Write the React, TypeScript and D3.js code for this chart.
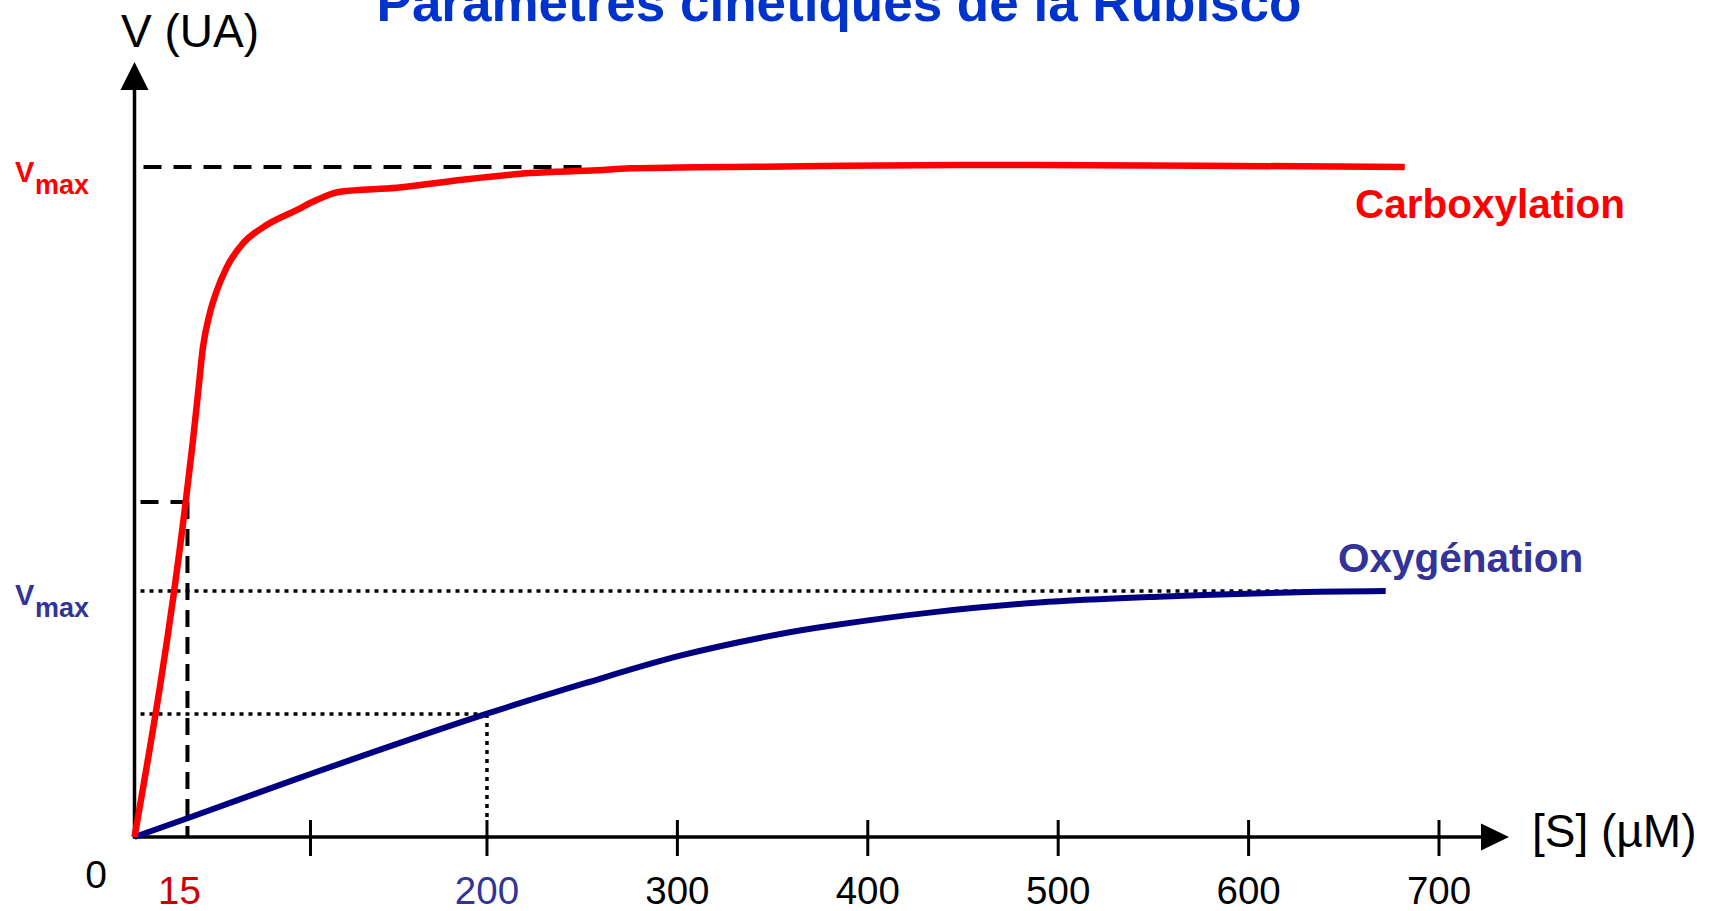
import { useMemo } from "react";
import * as d3 from "d3";

const WIDTH = 1723;
const HEIGHT = 911;
const FONT = "'Liberation Sans', Arial, sans-serif";

// origin of the axes and the pixel spots of S = 700 and V = Vmax(carboxylation)
const ORIGIN = { x: 134.5, y: 837 };
const X_END = 1439;
const Y_VMAX = 167;

// the drawing is schematic: the S axis is stretched near the origin
const X_BREAKS = [0, 15, 100, 200, 700];
const X_STRETCH = [0, 0.0406, 0.1349, 0.2702, 1];

// kinetic constants (µM, UA)
const KM_CARBOX = 15;
const KM_OXY = 200;
const VMAX_CARBOX = 100;
const VMAX_OXY = 36.7;

// curves
const carboxS = [0, 14.5, 18.8, 22.3, 25.7, 30.5, 35.4, 42.3, 53.4, 67.2, 90.7, 103.7, 116.7, 149, 186, 223, 258, 275, 364, 448, 575, 682];
const carboxV = [0, 50, 59.2, 66.2, 73.1, 78.2, 81.6, 85.1, 88.6, 91.0, 93.6, 95.1, 96.3, 96.9, 98.1, 99.1, 99.5, 99.8, 100.1, 100.3, 100.2, 100];
const oxyS = [0, 15, 100, 200, 252, 302, 354, 382, 436, 490, 556, 621, 672];
const oxyV = [0, 2.8, 9.4, 18.4, 23.0, 27.1, 30.3, 31.6, 33.6, 35.0, 35.9, 36.5, 36.7];

// axis ticks and labels
const tickValues = [100, 200, 300, 400, 500, 600, 700];
const labelValues = [15, 200, 300, 400, 500, 600, 700];

// how far the guide lines run along S
const GUIDE_VMAX_CARBOX_END = 256;
const GUIDE_VMAX_OXY_END = 634;
const GUIDE_HALF_OXY_END = 197;

const RED = "#ff0000";
const DARK_RED = "#cc0000";
const NAVY = "#000080";
const BLUE_TEXT = "#333399";

const VmaxLabel = ({ y, color }: { y: number; color: string }) => (
    <text x={15} y={y} fill={color} fontFamily={FONT} fontWeight="bold">
        <tspan fontSize={29}>V</tspan>
        <tspan x={35} dy={11.5} fontSize={27}>max</tspan>
    </text>
);

export default function App() {
    const xScale = useMemo(
        () =>
            d3
                .scaleLinear()
                .domain(X_BREAKS)
                .range(X_STRETCH.map((f) => ORIGIN.x + f * (X_END - ORIGIN.x))),
        []
    );
    const yScale = useMemo(
        () => d3.scaleLinear().domain([0, VMAX_CARBOX]).range([ORIGIN.y, Y_VMAX]),
        []
    );

    const lineOf = (curve: d3.CurveFactory) =>
        d3
            .line<[number, number]>()
            .x((d) => xScale(d[0]))
            .y((d) => yScale(d[1]))
            .curve(curve);

    const carboxPath = lineOf(d3.curveMonotoneX)(carboxS.map((s, i) => [s, carboxV[i]])) || "";
    // smoother spline for the slow oxygenation curve
    const oxyPath = lineOf(d3.curveCatmullRom.alpha(0.5))(oxyS.map((s, i) => [s, oxyV[i]])) || "";

    const guideStart = ORIGIN.x + 6;
    const yArrowTip = 62;
    const xArrowTip = 1509;

    const dashed = { stroke: "#000", strokeWidth: 4, strokeDasharray: "18 12", fill: "none" };
    const dotted = { stroke: "#000", strokeWidth: 3.5, strokeDasharray: "4 5", fill: "none" };

    const labelColor = (v: number) =>
        v === KM_CARBOX ? DARK_RED : v === KM_OXY ? BLUE_TEXT : "#000";

    return (
        <svg
            width={WIDTH}
            height={HEIGHT}
            style={{ position: "absolute", left: 0, top: 0, background: "#fff" }}
        >
            {/* title, cut by the top edge as in the slide */}
            <text
                x={839}
                y={21}
                textAnchor="middle"
                fontFamily={FONT}
                fontWeight="bold"
                fontSize={53}
                fill="#0033cc"
            >
                Paramètres cinétiques de la Rubisco
            </text>

            {/* guide lines */}
            <line x1={guideStart + 3} x2={xScale(GUIDE_VMAX_CARBOX_END)} y1={yScale(VMAX_CARBOX)} y2={yScale(VMAX_CARBOX)} {...dashed} />
            <line x1={guideStart} x2={xScale(KM_CARBOX)} y1={yScale(VMAX_CARBOX / 2)} y2={yScale(VMAX_CARBOX / 2)} {...dashed} />
            <line x1={xScale(KM_CARBOX)} x2={xScale(KM_CARBOX)} y1={yScale(VMAX_CARBOX / 2)} y2={ORIGIN.y} {...dashed} strokeDasharray="17 10" />
            <line x1={guideStart} x2={xScale(GUIDE_VMAX_OXY_END)} y1={yScale(VMAX_OXY)} y2={yScale(VMAX_OXY)} {...dotted} />
            <line x1={guideStart} x2={xScale(GUIDE_HALF_OXY_END)} y1={yScale(VMAX_OXY / 2)} y2={yScale(VMAX_OXY / 2)} {...dotted} />
            <line x1={xScale(KM_OXY)} x2={xScale(KM_OXY)} y1={yScale(VMAX_OXY / 2)} y2={ORIGIN.y - 18} {...dotted} />

            {/* axes */}
            <line x1={ORIGIN.x} x2={ORIGIN.x} y1={ORIGIN.y + 1.5} y2={yArrowTip + 20} stroke="#000" strokeWidth={3.5} />
            <path d={`M${ORIGIN.x},${yArrowTip} L${ORIGIN.x + 14},${yArrowTip + 28} L${ORIGIN.x - 14},${yArrowTip + 28} Z`} fill="#000" />
            <line x1={ORIGIN.x - 1.5} x2={xArrowTip - 20} y1={ORIGIN.y} y2={ORIGIN.y} stroke="#000" strokeWidth={3.5} />
            <path d={`M${xArrowTip},${ORIGIN.y} L${xArrowTip - 28},${ORIGIN.y - 13.5} L${xArrowTip - 28},${ORIGIN.y + 13.5} Z`} fill="#000" />
            {tickValues.map((v) => (
                <line key={v} x1={xScale(v)} x2={xScale(v)} y1={ORIGIN.y - 17} y2={ORIGIN.y + 19} stroke="#000" strokeWidth={3} />
            ))}

            {/* curves */}
            <path d={oxyPath} fill="none" stroke={NAVY} strokeWidth={6} />
            <path d={carboxPath} fill="none" stroke={RED} strokeWidth={6.5} />

            {/* axis texts */}
            <text x={121} y={47} fontFamily={FONT} fontSize={46} fill="#000">V (UA)</text>
            <text x={1532} y={847} fontFamily={FONT} fontSize={46} fill="#000">[S] (µM)</text>
            <text x={96} y={888} textAnchor="middle" fontFamily={FONT} fontSize={39} fill="#000">0</text>
            {labelValues.map((v) => (
                <text
                    key={v}
                    x={v === KM_CARBOX ? xScale(v) - 8 : xScale(v)}
                    y={904}
                    textAnchor="middle"
                    fontFamily={FONT}
                    fontSize={38.5}
                    fill={labelColor(v)}
                >
                    {v}
                </text>
            ))}

            <VmaxLabel y={yScale(VMAX_CARBOX) + 15} color={RED} />
            <VmaxLabel y={yScale(VMAX_OXY) + 14} color={BLUE_TEXT} />

            {/* series names */}
            <text x={1355} y={218} fontFamily={FONT} fontWeight="bold" fontSize={40.5} fill={RED}>Carboxylation</text>
            <text x={1338} y={572} fontFamily={FONT} fontWeight="bold" fontSize={40.5} fill={BLUE_TEXT}>Oxygénation</text>
        </svg>
    );
}
